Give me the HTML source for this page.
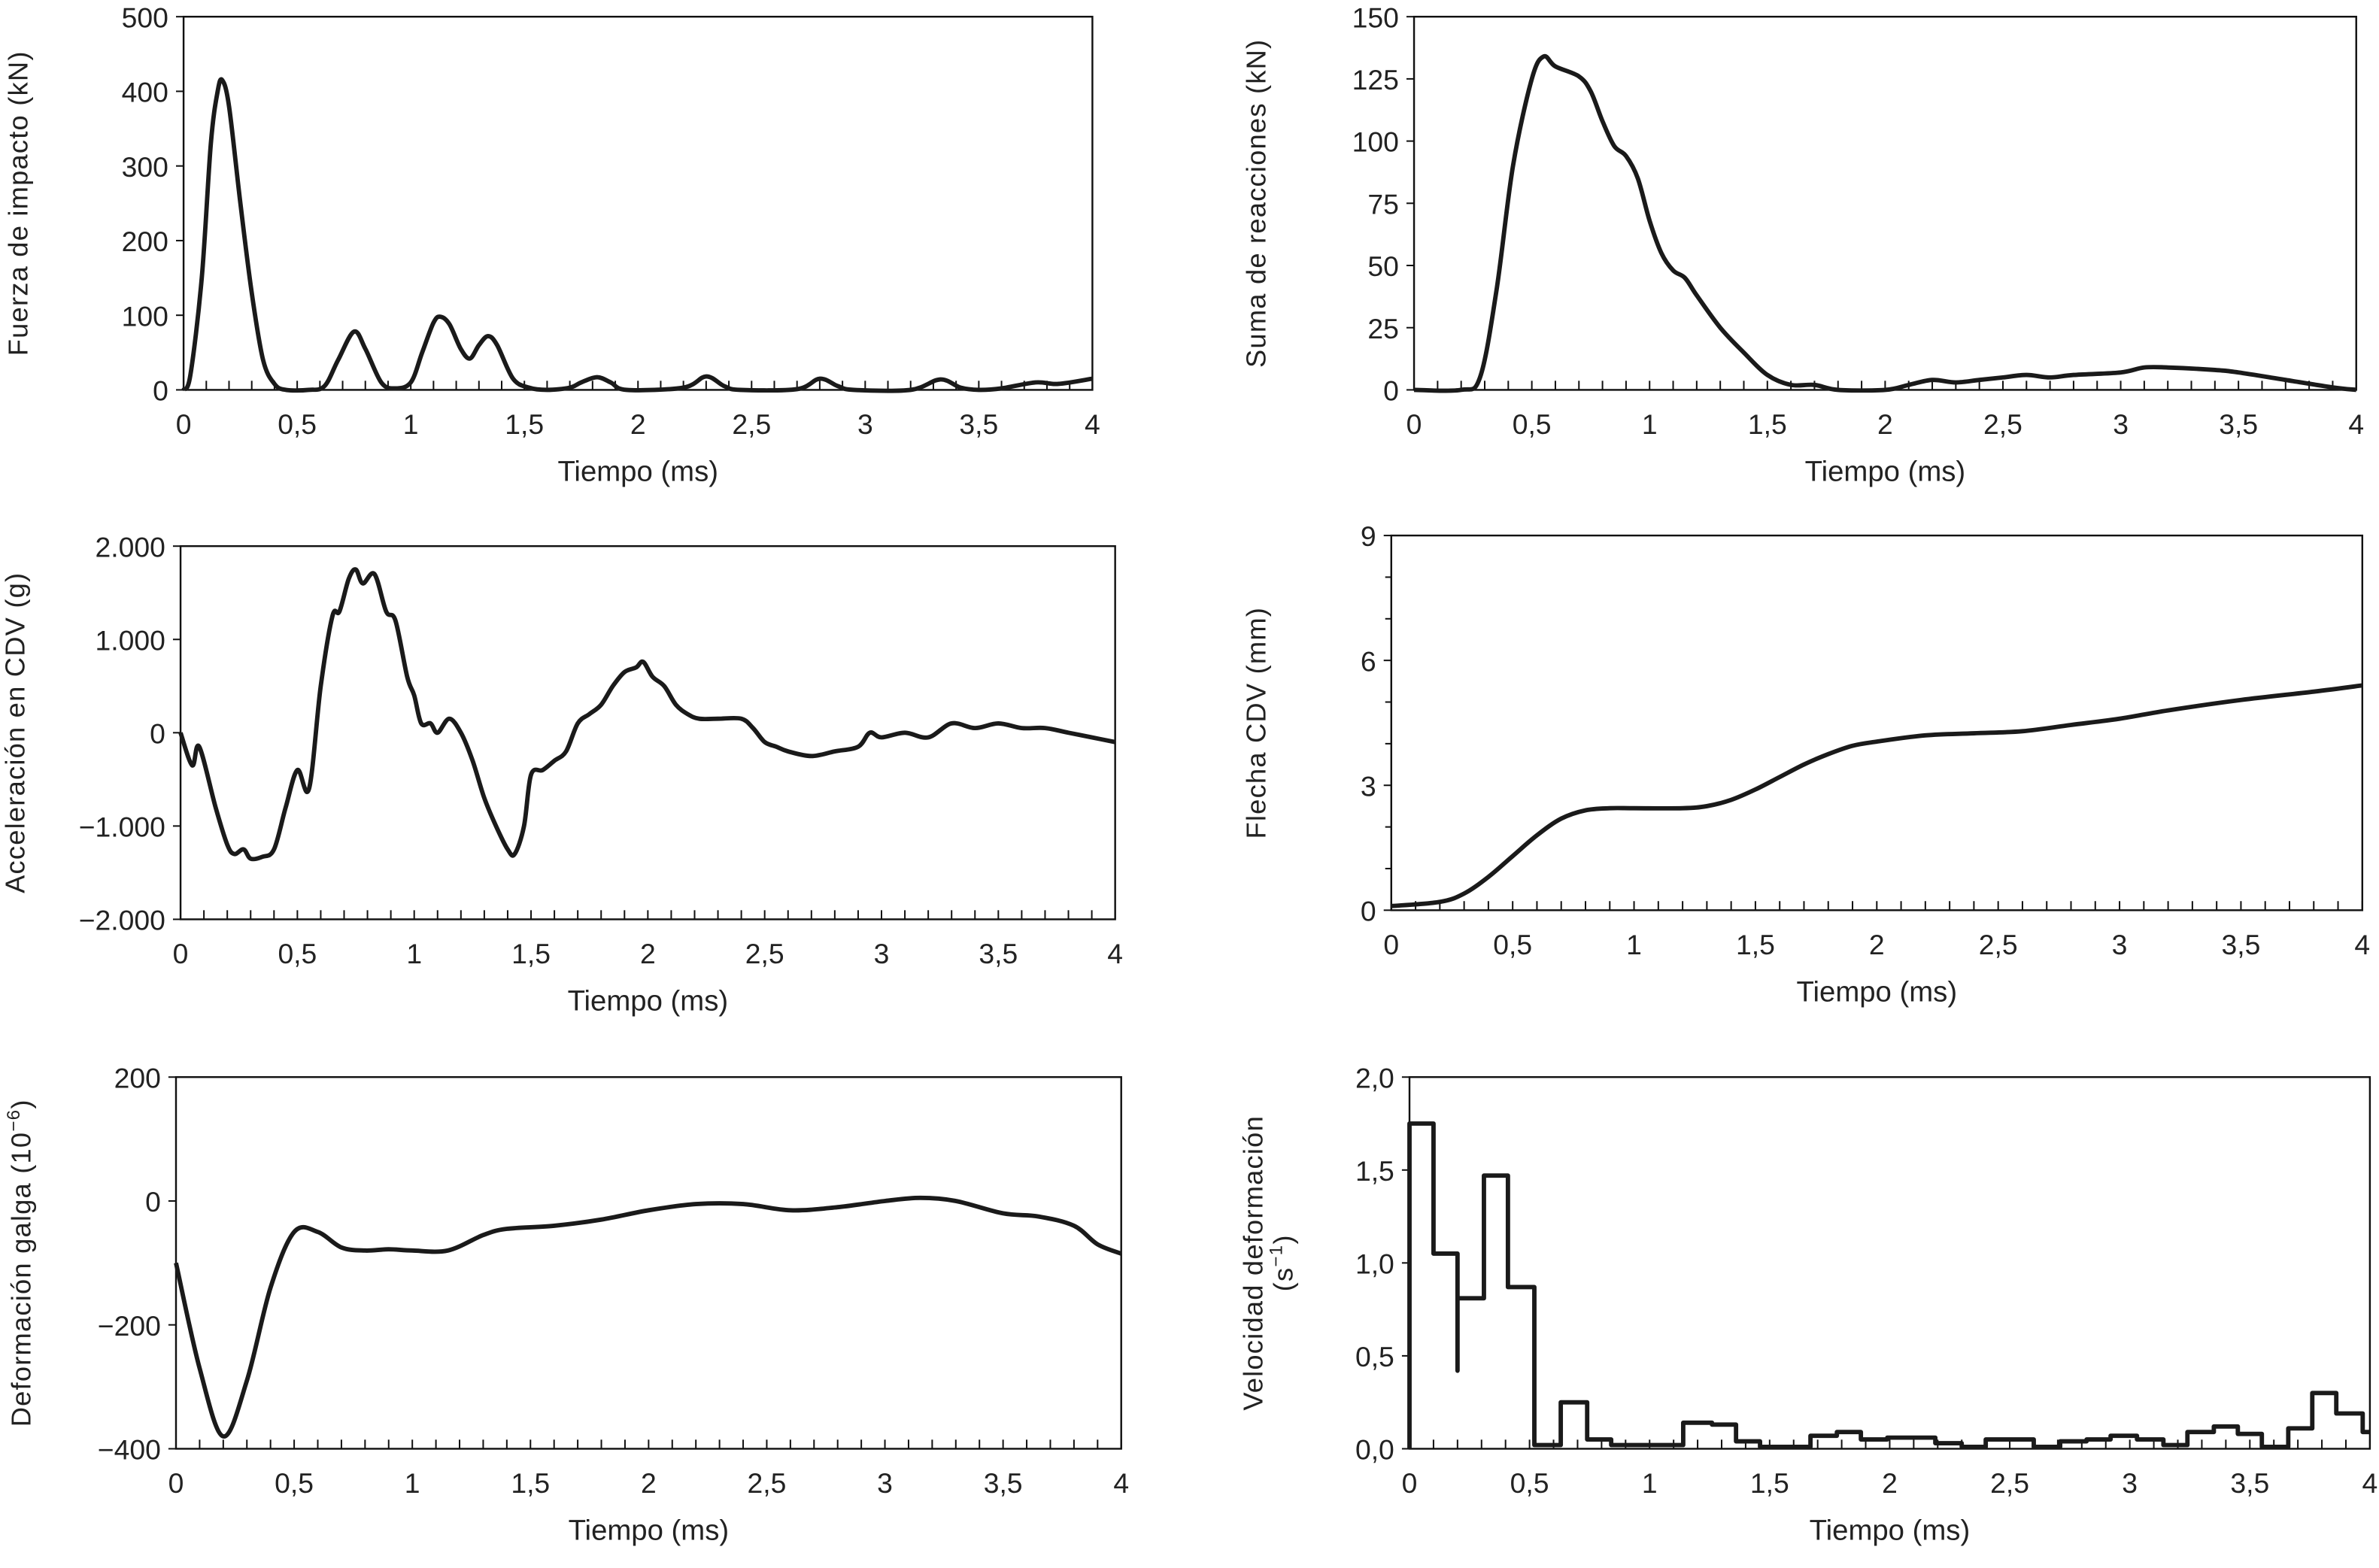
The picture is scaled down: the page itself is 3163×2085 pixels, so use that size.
<!DOCTYPE html>
<html><head><meta charset="utf-8"><style>
html,body{margin:0;padding:0;background:#fff}
svg{display:block}
text{font-family:"Liberation Sans",sans-serif;fill:#222}
</style></head><body>
<svg id="s" width="3163" height="2085" viewBox="0 0 1568 1033.6" xmlns="http://www.w3.org/2000/svg"></svg>
<script>
// Panel 1: impact force
const forceT=[0,0.03,0.08,0.12,0.15,0.17,0.2,0.25,0.3,0.35,0.4,0.45,0.55,0.62,0.68,0.75,0.8,0.87,0.93,1.0,1.05,1.1,1.13,1.17,1.22,1.26,1.3,1.34,1.38,1.45,1.52,1.6,1.7,1.75,1.82,1.88,1.95,2.2,2.3,2.38,2.45,2.7,2.8,2.88,2.95,3.2,3.33,3.42,3.5,3.6,3.75,3.85,4.0];
const forceV=[0,20,150,330,400,415,380,250,130,40,8,0,0,5,40,78,55,10,2,10,50,90,98,88,55,42,60,72,60,15,3,0,3,10,17,10,0,3,18,5,0,1,15,5,0,0,14,3,0,2,10,8,15];
// Panel 2: sum of reactions
const reacT=[0,0.2,0.28,0.35,0.42,0.5,0.55,0.6,0.7,0.75,0.8,0.85,0.9,0.95,1.0,1.05,1.1,1.15,1.2,1.3,1.4,1.5,1.6,1.7,1.8,2.0,2.1,2.2,2.3,2.4,2.5,2.6,2.7,2.8,3.0,3.1,3.2,3.4,3.5,3.7,3.9,4.0];
const reacV=[0,0,5,40,90,125,134,130,126,120,108,98,94,85,68,55,48,45,38,25,15,6,2,2,0,0,2,4,3,4,5,6,5,6,7,9,9,8,7,4,1,0];
// Panel 3: acceleration
const accT=[0,0.05,0.08,0.15,0.2,0.23,0.27,0.3,0.35,0.4,0.45,0.5,0.55,0.6,0.65,0.68,0.72,0.75,0.78,0.83,0.88,0.92,0.97,1.0,1.03,1.07,1.1,1.15,1.2,1.25,1.3,1.35,1.4,1.43,1.47,1.5,1.55,1.6,1.65,1.7,1.75,1.8,1.85,1.9,1.95,1.98,2.02,2.07,2.12,2.17,2.22,2.3,2.4,2.45,2.5,2.55,2.6,2.7,2.8,2.9,2.95,3.0,3.1,3.2,3.3,3.4,3.5,3.6,3.7,3.8,3.9,4.0];
const accV=[0,-350,-150,-800,-1200,-1300,-1250,-1350,-1330,-1250,-800,-400,-600,500,1250,1300,1650,1750,1600,1700,1300,1200,600,400,100,100,0,150,0,-300,-700,-1000,-1250,-1300,-1000,-450,-400,-300,-200,100,200,300,500,650,700,760,600,500,300,200,150,150,150,50,-100,-150,-200,-250,-200,-150,0,-50,0,-50,100,50,100,50,50,0,-50,-100];
// Panel 4: deflection
const defT=[0,0.2,0.3,0.4,0.5,0.6,0.7,0.8,0.9,1.0,1.2,1.3,1.4,1.5,1.6,1.7,1.8,1.9,2.0,2.2,2.4,2.6,2.8,3.0,3.2,3.5,3.8,4.0];
const defV=[0.1,0.2,0.4,0.8,1.3,1.8,2.2,2.4,2.45,2.45,2.45,2.5,2.65,2.9,3.2,3.5,3.75,3.95,4.05,4.2,4.25,4.3,4.45,4.6,4.8,5.05,5.25,5.4];
// Panel 5: strain gauge
const strT=[0,0.1,0.2,0.3,0.4,0.5,0.6,0.7,0.8,0.9,1.0,1.15,1.3,1.4,1.6,1.8,2.0,2.2,2.4,2.6,2.8,3.0,3.15,3.3,3.5,3.65,3.8,3.9,4.0];
const strV=[-100,-270,-380,-290,-140,-50,-50,-75,-80,-78,-80,-80,-55,-45,-40,-30,-15,-5,-5,-15,-10,0,5,0,-20,-25,-40,-70,-85];
// Panel 6: strain rate (steps)
const rateT=[0,0.10,0.2,0.31,0.41,0.52,0.63,0.74,0.84,1.14,1.26,1.36,1.46,1.67,1.78,1.88,1.99,2.08,2.19,2.3,2.4,2.6,2.71,2.82,2.92,3.03,3.14,3.24,3.35,3.45,3.55,3.66,3.76,3.86,3.97];
const rateV=[1.75,1.05,0.81,1.47,0.87,0.02,0.25,0.05,0.02,0.14,0.13,0.04,0.01,0.07,0.09,0.05,0.06,0.06,0.03,0.01,0.05,0.01,0.04,0.05,0.07,0.05,0.02,0.09,0.12,0.08,0.01,0.11,0.30,0.19,0.09];
const xTicks=[0,0.5,1,1.5,2,2.5,3,3.5,4];
const xTickLabels=["0","0,5","1","1,5","2","2,5","3","3,5","4"];

const S=document.getElementById('s');
const NS='http://www.w3.org/2000/svg';
function mk(tag,at,parent){const e=document.createElementNS(NS,tag);for(const k in at)e.setAttribute(k,at[k]);(parent||S).appendChild(e);return e;}
function smooth(P){
  let d='M'+P[0][0].toFixed(2)+','+P[0][1].toFixed(2);
  for(let i=0;i<P.length-1;i++){
    const p0=P[Math.max(0,i-1)],p1=P[i],p2=P[i+1],p3=P[Math.min(P.length-1,i+2)];
    const c1=[p1[0]+(p2[0]-p0[0])/6,p1[1]+(p2[1]-p0[1])/6];
    const c2=[p2[0]-(p3[0]-p1[0])/6,p2[1]-(p3[1]-p1[1])/6];
    d+='C'+c1[0].toFixed(2)+','+c1[1].toFixed(2)+' '+c2[0].toFixed(2)+','+c2[1].toFixed(2)+' '+p2[0].toFixed(2)+','+p2[1].toFixed(2);
  }
  return d;
}
function panel(p){
  const g=mk('g',{});
  
  
  const X=v=>p.l+(v/4)*(p.r-p.l);
  const Y=v=>p.b-(v-p.ymin)/(p.ymax-p.ymin)*(p.b-p.t);
  const fr=mk('rect',{x:p.l,y:p.t,width:p.r-p.l,height:p.b-p.t,fill:'none',stroke:'#111','stroke-width':1.2},g);
  
  
  for(let i=0;i<=40;i++){const x=X(i/10);mk('line',{x1:x,x2:x,y1:p.b,y2:p.b-6,stroke:'#111','stroke-width':1},g);}
  xTicks.forEach((v,i)=>{const t=mk('text',{x:X(v),y:p.b+29,'font-size':18.5,'text-anchor':'middle'},g);t.textContent=xTickLabels[i];
    
    });
  p.yt.forEach((v,i)=>{const y=Y(v);mk('line',{x1:p.l-5,x2:p.l,y1:y,y2:y,stroke:'#111','stroke-width':1},g);
    const t=mk('text',{x:p.l-10,y:y+7,'font-size':18.5,'text-anchor':'end'},g);t.textContent=p.yl[i];
    
    });
  (p.ym||[]).forEach(v=>{const y=Y(v);mk('line',{x1:p.l-4,x2:p.l,y1:y,y2:y,stroke:'#111','stroke-width':1},g);});
  const xt=mk('text',{x:(p.l+p.r)/2,y:p.b+60,'font-size':19,'text-anchor':'middle'},g);xt.textContent='Tiempo (ms)';
  
  
  p.ytitle.forEach((s,i)=>{const cy=(p.t+p.b)/2;const tx=p.tx+i*20;
    const t=mk('text',{x:tx,y:cy,'font-size':18,'text-anchor':'middle','letter-spacing':0.6,transform:`rotate(-90 ${tx} ${cy})`},g);t.innerHTML=s;
    
    });
  let d='';
  if(p.step){
    for(let i=0;i<p.T.length;i++){const x0=X(p.T[i]),x1=X(i+1<p.T.length?p.T[i+1]:4),y=Y(p.V[i]);
      d+=(i?'L':'M')+x0+','+y+'L'+x1+','+y;
      if(i==1)d+='L'+x1+','+Y(0.42)+'L'+x1+','+y;}
    d='M'+X(0)+','+Y(0)+'L'+d.slice(1);
  } else {
    d=smooth(p.T.map((t,i)=>[X(t),Y(p.V[i])]));
  }
  const ln=mk('path',{d:d,fill:'none',stroke:'#1a1a1a','stroke-width':2.9,'stroke-linejoin':'round'},g);
  
  
}
panel({name:'impact-force-chart',l:121,r:720,t:11,b:257,ymin:0,ymax:500,yt:[0,100,200,300,400,500],yl:['0','100','200','300','400','500'],T:forceT,V:forceV,ytitle:['Fuerza de impacto (kN)'],tx:18});
panel({name:'reactions-chart',l:932,r:1553,t:11,b:257,ymin:0,ymax:150,yt:[0,25,50,75,100,125,150],yl:['0','25','50','75','100','125','150'],T:reacT,V:reacV,ytitle:['Suma de reacciones (kN)'],tx:834});
panel({name:'acceleration-chart',l:119,r:735,t:360,b:606,ymin:-2000,ymax:2000,yt:[-2000,-1000,0,1000,2000],yl:['−2.000','−1.000','0','1.000','2.000'],T:accT,V:accV,ytitle:['Acceleración en CDV (g)'],tx:16});
panel({name:'deflection-chart',l:917,r:1557,t:353,b:600,ymin:0,ymax:9,yt:[0,3,6,9],yl:['0','3','6','9'],ym:[1,2,4,5,7,8],T:defT,V:defV,ytitle:['Flecha CDV (mm)'],tx:834});
panel({name:'strain-gauge-chart',l:116,r:739,t:710,b:955,ymin:-400,ymax:200,yt:[-400,-200,0,200],yl:['−400','−200','0','200'],T:strT,V:strV,ytitle:['Deformación galga (10<tspan dy="-7" font-size="12">−6</tspan><tspan dy="7">)</tspan>'],tx:20});
panel({name:'strain-rate-chart',l:929,r:1562,t:710,b:955,ymin:0,ymax:2,yt:[0,0.5,1,1.5,2],yl:['0,0','0,5','1,0','1,5','2,0'],T:rateT,V:rateV,step:true,ytitle:['Velocidad deformación','(s<tspan dy="-7" font-size="12">−1</tspan><tspan dy="7">)</tspan>'],tx:832});
</script>
</body></html>
